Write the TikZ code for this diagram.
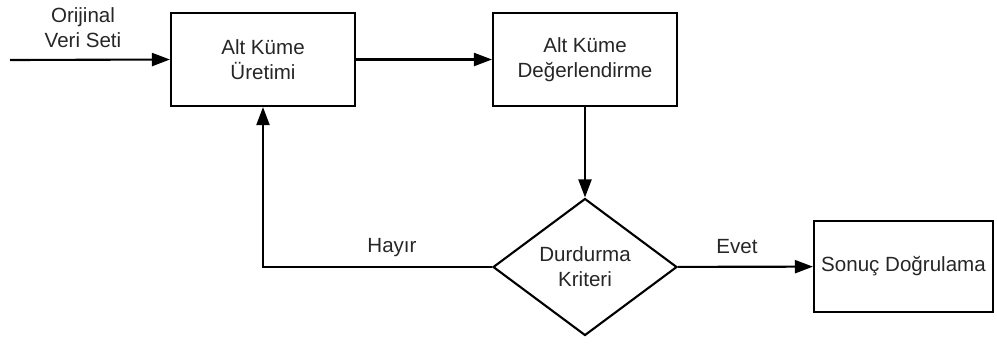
\documentclass[tikz,border=0pt]{standalone}
\usepackage{fontspec}
\setmainfont{Liberation Sans}
\usetikzlibrary{shapes.geometric,arrows.meta,positioning,calc}

\begin{document}
\begin{tikzpicture}[x=0.02cm, y=-0.02cm,
    every node/.style={font=\fontsize{11.7}{14.2}\selectfont, text=black!85},
    block/.style={draw=black, line width=1.2pt, minimum width=3.68cm, minimum height=1.86cm, align=center, inner sep=0pt},
    decision/.style={diamond, draw=black, line width=1.2pt, minimum width=3.68cm, minimum height=2.74cm, aspect=1.34, align=center, inner sep=0pt},
    flow/.style={line width=1.2pt, -{Triangle[length=0.36cm, width=0.26cm]}}]
    % Canvas
    \useasboundingbox (0,0) rectangle (997,343);

    % Blocks
    \node[block] (uretim) at (263,59.5) {Alt Küme\\Üretimi};
    \node[block] (deger) at (585,59.5) {Alt Küme\\Değerlendirme};
    \node[decision] (kriter) at (585,267) {Durdurma\\Kriteri};
    \node[block, minimum width=3.58cm, minimum height=1.82cm] (sonuc) at (903.5,266.5) {Sonuç Doğrulama};

    % Input
    \coordinate (giris) at (10,60);
    \node[align=center] (veri) at (83,28) {Orijinal\\Veri Seti};

    % Connections
    \draw[flow] (giris) -- (uretim.west);
    \draw[flow] (uretim) -- (deger);
    \draw[flow] (deger) -- (kriter);
    \draw[flow] (kriter.west) -| (uretim.south);
    \draw[flow] (kriter) -- (sonuc);

    % Labels
    \node (hayir) at (392,248) {Hayır};
    \node (evet) at (737,247) {Evet};
\end{tikzpicture}
\end{document}
